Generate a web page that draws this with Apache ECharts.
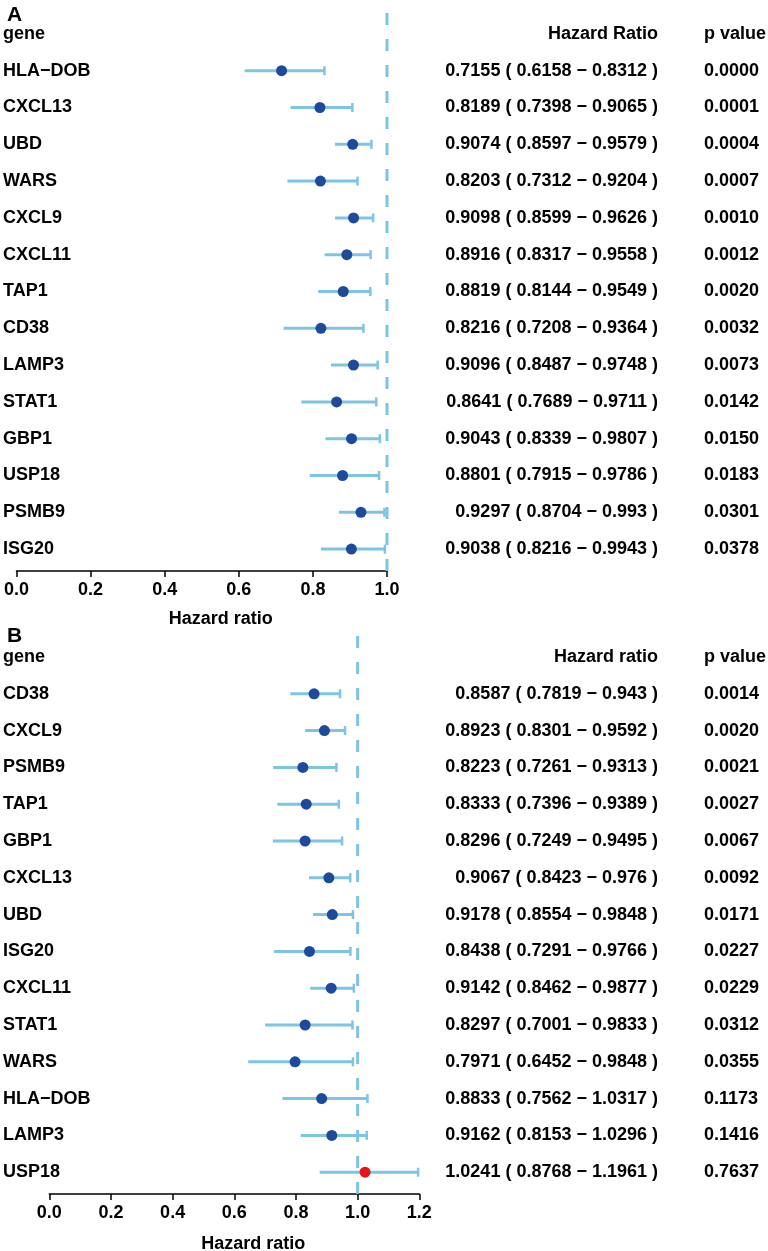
<!DOCTYPE html>
<html><head><meta charset="utf-8">
<script src="https://cdn.jsdelivr.net/npm/echarts@6/dist/echarts.min.js"></script>
<style>html,body{margin:0;padding:0;background:#fff}#c{width:768px;height:1251px}</style>
</head><body><div id="c"></div>
<script>
// ---------- Panel A data ----------
const genesA = ['HLA−DOB','CXCL13','UBD','WARS','CXCL9','CXCL11','TAP1','CD38','LAMP3','STAT1','GBP1','USP18','PSMB9','ISG20'];
const hrA = [0.7155,0.8189,0.9074,0.8203,0.9098,0.8916,0.8819,0.8216,0.9096,0.8641,0.9043,0.8801,0.9297,0.9038];
const loA = [0.6158,0.7398,0.8597,0.7312,0.8599,0.8317,0.8144,0.7208,0.8487,0.7689,0.8339,0.7915,0.8704,0.8216];
const hiA = [0.8312,0.9065,0.9579,0.9204,0.9626,0.9558,0.9549,0.9364,0.9748,0.9711,0.9807,0.9786,0.993,0.9943];
const pA  = [0.0000,0.0001,0.0004,0.0007,0.0010,0.0012,0.0020,0.0032,0.0073,0.0142,0.0150,0.0183,0.0301,0.0378];
const headerA = ['gene','Hazard Ratio','p value'];
const xMaxA = 1.0;

// ---------- Panel B data ----------
const genesB = ['CD38','CXCL9','PSMB9','TAP1','GBP1','CXCL13','UBD','ISG20','CXCL11','STAT1','WARS','HLA−DOB','LAMP3','USP18'];
const hrB = [0.8587,0.8923,0.8223,0.8333,0.8296,0.9067,0.9178,0.8438,0.9142,0.8297,0.7971,0.8833,0.9162,1.0241];
const loB = [0.7819,0.8301,0.7261,0.7396,0.7249,0.8423,0.8554,0.7291,0.8462,0.7001,0.6452,0.7562,0.8153,0.8768];
const hiB = [0.943,0.9592,0.9313,0.9389,0.9495,0.976,0.9848,0.9766,0.9877,0.9833,0.9848,1.0317,1.0296,1.1961];
const pB  = [0.0014,0.0020,0.0021,0.0027,0.0067,0.0092,0.0171,0.0227,0.0229,0.0312,0.0355,0.1173,0.1416,0.7637];
const headerB = ['gene','Hazard ratio','p value'];
const xMaxB = 1.2;

const axisTitle = 'Hazard ratio';
const panelLabels = ['A','B'];

// ---------- styles ----------
const FONT = "'Liberation Sans', Arial, Helvetica, sans-serif";
const BAR = '#7EC4E5';
const BLUE = '#1E4A9C';
const RED = '#E8141C';
const TXT = '#000';
const ROW = 36.8;
const W = 768;

const panels = [
  {genes:genesA, hr:hrA, lo:loA, hi:hiA, p:pA, header:headerA, xMax:xMaxA,
   left:16.5, right:387, top:15.5, axisOffset:3.5, nameGap:39, namePad:38},
  {genes:genesB, hr:hrB, lo:loB, hi:hiB, p:pB, header:headerB, xMax:xMaxB,
   left:49.3, right:419.3, top:638.6, axisOffset:3.4, nameGap:41, namePad:38}
];
const HR_RIGHT = 658, P_LEFT = 704;

const lbl = (extra) => Object.assign({fontSize:18, fontWeight:'bold', color:TXT, fontFamily:FONT, interval:0}, extra);

const grids = [], xAxes = [], yAxes = [], series = [];
panels.forEach((pn, gi) => {
  const n = pn.genes.length;
  grids.push({left:pn.left, width:pn.right - pn.left, top:pn.top, height:(n + 1) * ROW, outerBoundsMode:'none', containLabel:false});
  xAxes.push({
    gridIndex:gi, type:'value', min:0, max:pn.xMax, interval:0.2, offset:pn.axisOffset,
    axisLine:{show:true, lineStyle:{color:'#000', width:1.5}},
    axisTick:{show:true, length:6, lineStyle:{color:'#000', width:1.5}},
    splitLine:{show:false},
    axisLabel:lbl({margin:10, formatter:v => v.toFixed(1)}),
    name:axisTitle, nameLocation:'middle', nameGap:pn.nameGap,
    nameTextStyle:{fontSize:18, fontWeight:'bold', color:TXT, fontFamily:FONT, padding:[0,0,0,pn.namePad]}
  });
  const hrText = pn.hr.map((v,i) => `${v} ( ${pn.lo[i]} − ${pn.hi[i]} )`);
  const pText = pn.p.map(v => v.toFixed(4));
  const base = {gridIndex:gi, type:'category', inverse:true,
    axisLine:{show:false}, axisTick:{show:false}, splitLine:{show:false}};
  yAxes.push(Object.assign({}, base, {position:'left', data:[pn.header[0], ...pn.genes],
    axisLabel:lbl({align:'left', margin:pn.left - 3})}));
  yAxes.push(Object.assign({}, base, {position:'right', data:[pn.header[1], ...hrText],
    axisLabel:lbl({align:'right', margin:HR_RIGHT - pn.right})}));
  yAxes.push(Object.assign({}, base, {position:'right', data:[pn.header[2], ...pText],
    axisLabel:lbl({align:'left', margin:P_LEFT - pn.right})}));
  const yi = gi * 3;
  // reference dashed line at HR = 1
  series.push({
    type:'custom', xAxisIndex:gi, yAxisIndex:yi, z:1, silent:true,
    data:[[1, 0]],
    renderItem:(params, api) => {
      const cs = params.coordSys;
      const x = api.coord([api.value(0), 0])[0];
      return {type:'line', shape:{x1:x, y1:cs.y - 2.5, x2:x, y2:cs.y + cs.height + pn.axisOffset},
        style:{stroke:BAR, lineWidth:3, lineDash:[12,14]}};
    }
  });
  // confidence interval bars
  series.push({
    type:'custom', xAxisIndex:gi, yAxisIndex:yi, z:2, silent:true,
    encode:{x:[0,1], y:2},
    data:pn.lo.map((l,i) => [l, pn.hi[i], i + 1]),
    renderItem:(params, api) => {
      const a = api.coord([api.value(0), api.value(2)]);
      const b = api.coord([api.value(1), api.value(2)]);
      return {type:'group', children:[
        {type:'line', shape:{x1:a[0], y1:a[1], x2:b[0], y2:b[1]}, style:{stroke:BAR, lineWidth:3}},
        {type:'line', shape:{x1:b[0], y1:b[1] - 4.5, x2:b[0], y2:b[1] + 4.5}, style:{stroke:BAR, lineWidth:2.5}}
      ]};
    }
  });
  // point estimates
  series.push({
    type:'scatter', xAxisIndex:gi, yAxisIndex:yi, z:3, silent:true,
    symbol:'circle', symbolSize:11,
    data:pn.hr.map((v,i) => [v, i + 1]),
    itemStyle:{color:p => p.value[0] > 1 ? RED : BLUE, opacity:1}
  });
});

const chart = echarts.init(document.getElementById('c'), null, {renderer:'canvas'});
chart.setOption({
  animation:false,
  backgroundColor:'#fff',
  title:[
    {text:panelLabels[0], left:2, top:0, textStyle:{fontSize:21, fontWeight:'bold', color:TXT, fontFamily:FONT}},
    {text:panelLabels[1], left:2, top:621, textStyle:{fontSize:21, fontWeight:'bold', color:TXT, fontFamily:FONT}}
  ],
  grid:grids, xAxis:xAxes, yAxis:yAxes, series:series
});
</script></body></html>
